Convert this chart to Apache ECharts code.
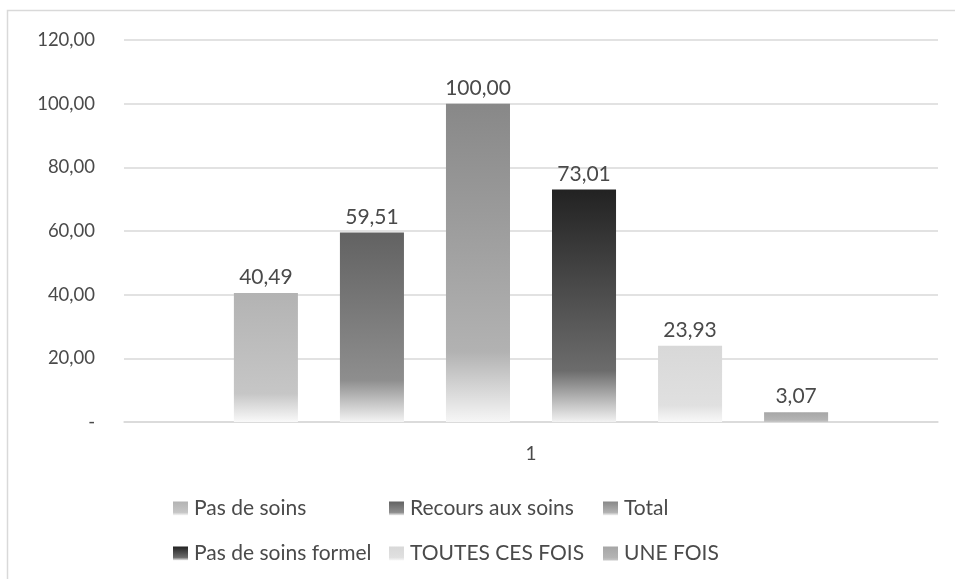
<!DOCTYPE html>
<html>
<head>
<meta charset="utf-8">
<script src="https://cdn.jsdelivr.net/npm/echarts@6/dist/echarts.min.js"></script>
<style>
  html, body { margin: 0; padding: 0; background: #ffffff; }
  #chart { width: 955px; height: 579px; }
</style>
</head>
<body>
<div id="chart"></div>
<script>
// Categories and values
const categories = ['1'];
const seriesNames = ['Pas de soins', 'Recours aux soins', 'Total', 'Pas de soins formel', 'TOUTES CES FOIS', 'UNE FOIS'];
const pasDeSoins = [40.49];
const recoursAuxSoins = [59.51];
const total = [100.00];
const pasDeSoinsFormel = [73.01];
const toutesCesFois = [23.93];
const uneFois = [3.07];
const yTicks = [0, 20, 40, 60, 80, 100, 120];

const seriesValues = [pasDeSoins, recoursAuxSoins, total, pasDeSoinsFormel, toutesCesFois, uneFois];

// Vertical gradient per bar: [top colour, colour near the foot, bottom colour]
const gradients = [
  ['#b3b3b3', '#c6c6c6', '#f9f9f9'],
  ['#626262', '#8e8e8e', '#f4f4f4'],
  ['#888888', '#b2b2b2', '#f6f6f6'],
  ['#222222', '#6c6c6c', '#f2f2f2'],
  ['#d8d8d8', '#e0e0e0', '#f8f8f8'],
  ['#a6a6a6', '#b4b4b4', '#c8c8c8']
];

function grad(c) {
  return new echarts.graphic.LinearGradient(0, 0, 0, 1, [
    { offset: 0, color: c[0] },
    { offset: 0.78, color: c[1] },
    { offset: 1, color: c[2] }
  ]);
}

function fmt(v) {
  if (v === 0) return '-';
  return v.toFixed(2).replace('.', ',');
}

const FONT = 'Lato';
const TXT = '#4a4a4a';

const chart = echarts.init(document.getElementById('chart'), null, { renderer: 'canvas' });

const series = seriesNames.map((name, i) => ({
  name: name,
  type: 'bar',
  data: seriesValues[i],
  barGap: '65.6%',
  barCategoryGap: '27%',
  itemStyle: { color: grad(gradients[i]) },
  label: {
    show: true,
    position: 'top',
    distance: 5,
    color: TXT,
    fontFamily: FONT,
    fontSize: 21,
    formatter: p => fmt(p.value)
  },
  emphasis: { disabled: true },
  animation: false
}));

const legendCommon = {
  orient: 'vertical',
  itemWidth: 15,
  itemHeight: 14,
  itemGap: 24,
  icon: 'rect',
  textStyle: { color: TXT, fontFamily: FONT, fontSize: 21, padding: [0, 0, 0, 1] },
  top: 498,
  padding: 0,
  selectedMode: false
};

chart.setOption({
  backgroundColor: '#ffffff',
  animation: false,
  graphic: [{
    type: 'rect',
    shape: { x: 7.5, y: 10.5, width: 1000, height: 1000 },
    style: { fill: 'none', stroke: '#d9d9d9', lineWidth: 1.5 },
    silent: true
  }],
  grid: { left: 124, right: 17, top: 40, bottom: 157 },
  legend: [
    Object.assign({}, legendCommon, { left: 173, data: [seriesNames[0], seriesNames[3]] }),
    Object.assign({}, legendCommon, { left: 389, data: [seriesNames[1], seriesNames[4]] }),
    Object.assign({}, legendCommon, { left: 603, data: [seriesNames[2], seriesNames[5]] })
  ],
  xAxis: {
    type: 'category',
    data: categories,
    axisLine: { lineStyle: { color: '#d9d9d9', width: 1.5 } },
    axisTick: { show: false },
    axisLabel: { color: TXT, fontFamily: FONT, fontSize: 19, margin: 22 }
  },
  yAxis: {
    type: 'value',
    min: yTicks[0],
    max: yTicks[yTicks.length - 1],
    interval: 20,
    axisLine: { show: false },
    axisTick: { show: false },
    splitLine: { lineStyle: { color: '#d9d9d9', width: 1.5 } },
    axisLabel: { color: TXT, fontFamily: FONT, fontSize: 18.5, margin: 29, formatter: fmt }
  },
  series: series
});
</script>
</body>
</html>
